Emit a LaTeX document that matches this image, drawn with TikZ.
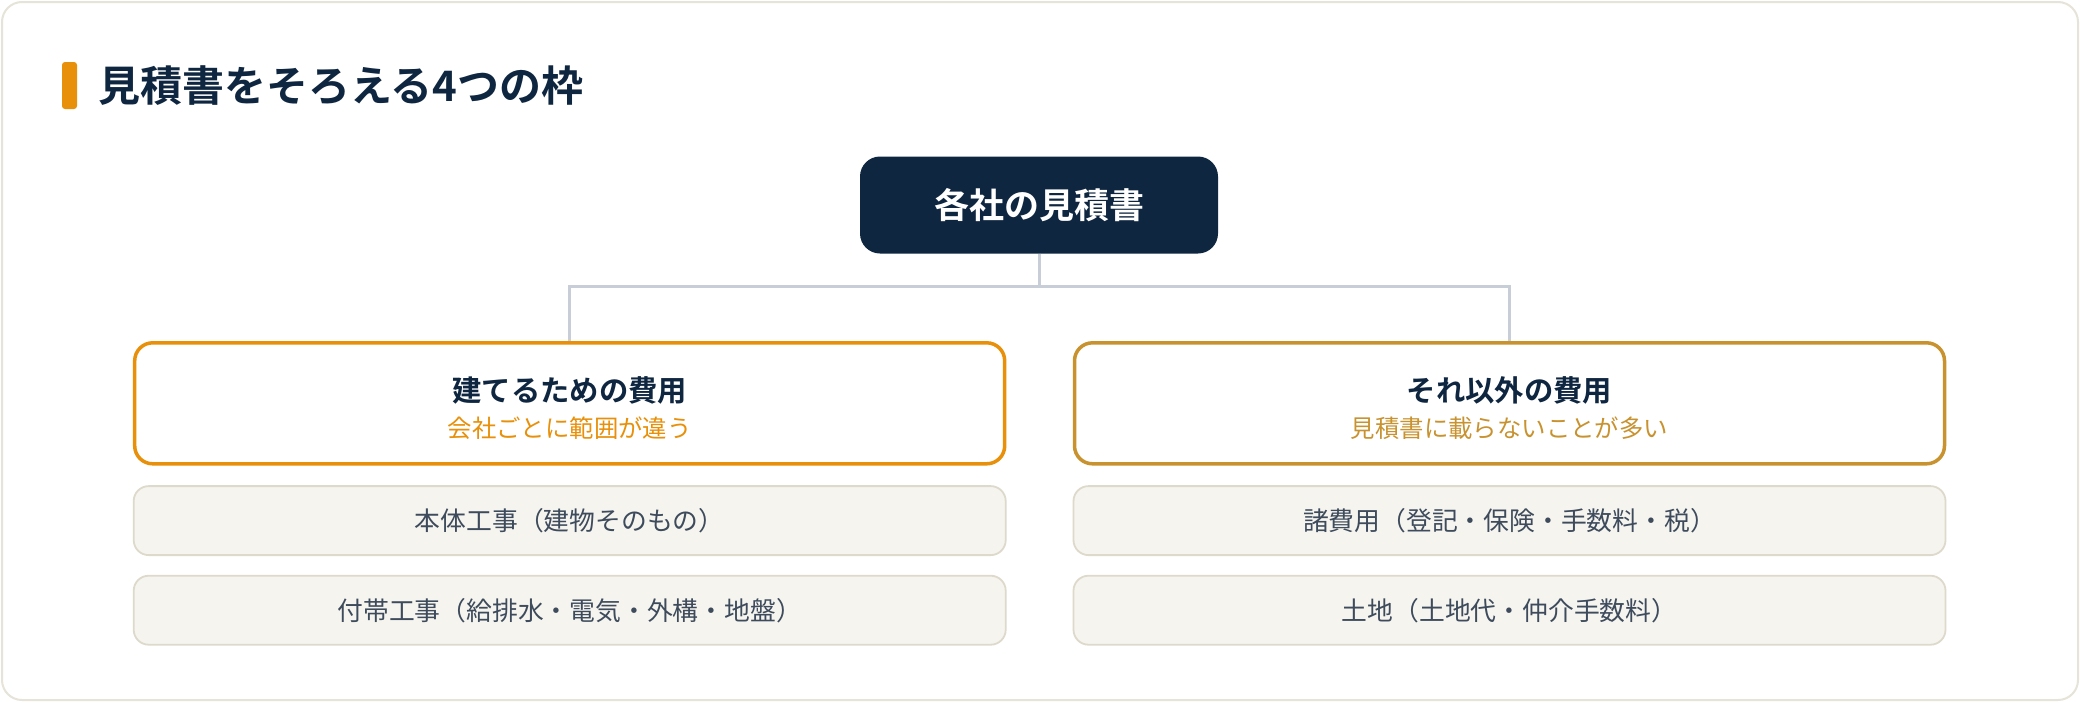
\documentclass[tikz,border=0pt]{standalone}
\usepackage{fontspec}
\newfontfamily\jp{Noto Sans CJK JP}
\newfontfamily\jpb{Noto Sans CJK JP Bold}
\definecolor{navy}{HTML}{0F2640}
\definecolor{orangec}{HTML}{E8900A}
\definecolor{goldc}{HTML}{C8922F}
\definecolor{itemfill}{HTML}{F6F4EF}
\definecolor{itemline}{HTML}{DDD9CB}
\definecolor{itemtext}{HTML}{3D4B5C}
\definecolor{connc}{HTML}{C8CED8}
\definecolor{framec}{HTML}{E6E3D8}
\tikzset{
  rootbox/.style={rectangle, rounded corners=20pt, fill=navy, draw=none,
    minimum width=358pt, minimum height=97pt, inner sep=0pt,
    text=white, font=\jpb\fontsize{35}{42}\selectfont},
  headbox/.style={rectangle, rounded corners=18pt, fill=white, line width=3.5pt,
    minimum width=870pt, minimum height=121pt, inner sep=0pt},
  itembox/.style={rectangle, rounded corners=15pt, fill=itemfill, draw=itemline,
    line width=1.8pt, minimum width=872pt, minimum height=69pt, inner sep=0pt,
    text=itemtext, font=\jp\fontsize{25.8}{31}\selectfont},
  headtitle/.style={inner sep=0pt, text=navy, font=\jpb\fontsize{29.3}{35}\selectfont},
  headsub/.style={inner sep=0pt, font=\jp\fontsize{24.4}{29}\selectfont},
  conn/.style={draw=connc, line width=3pt}
}
\begin{document}
\begin{tikzpicture}[x=1pt,y=-1pt]
\useasboundingbox (0,0) rectangle (2080,702);
\draw[framec, fill=white, line width=2pt, rounded corners=20pt] (2,2) rectangle (2078,700);
% title
\fill[orangec, rounded corners=3pt] (62,62) rectangle (77,109);
\node[anchor=west, inner sep=0pt, text=navy, font=\jpb\fontsize{42}{50}\selectfont] (title) at (98,86) {見積書をそろえる4つの枠};
% root
\node[rootbox] (root) at (1039,205) {各社の見積書};
% headers
\node[headbox, draw=orangec] (h1) at (569.7,403.3) {};
\node[headbox, draw=goldc] (h2) at (1509.5,403.3) {};
\node[headtitle] (h1t) at (569.7,390) {建てるための費用};
\node[headsub, text=orangec] (h1s) at (569.7,428.5) {会社ごとに範囲が違う};
\node[headtitle] (h2t) at (1509.5,390) {それ以外の費用};
\node[headsub, text=goldc] (h2s) at (1509.5,428.5) {見積書に載らないことが多い};
% connectors
\coordinate (j) at (1039,286.5);
\draw[conn] (root.south) -- (j);
\draw[conn] (j) -| (h1.north);
\draw[conn] (j) -| (h2.north);
% items
\node[itembox] (a1) at (569.7,520.6) {本体工事（建物そのもの）};
\node[itembox] (a2) at (569.7,610.2) {付帯工事（給排水・電気・外構・地盤）};
\node[itembox] (b1) at (1509.5,520.6) {諸費用（登記・保険・手数料・税）};
\node[itembox] (b2) at (1509.5,610.2) {土地（土地代・仲介手数料）};
\end{tikzpicture}
\end{document}
